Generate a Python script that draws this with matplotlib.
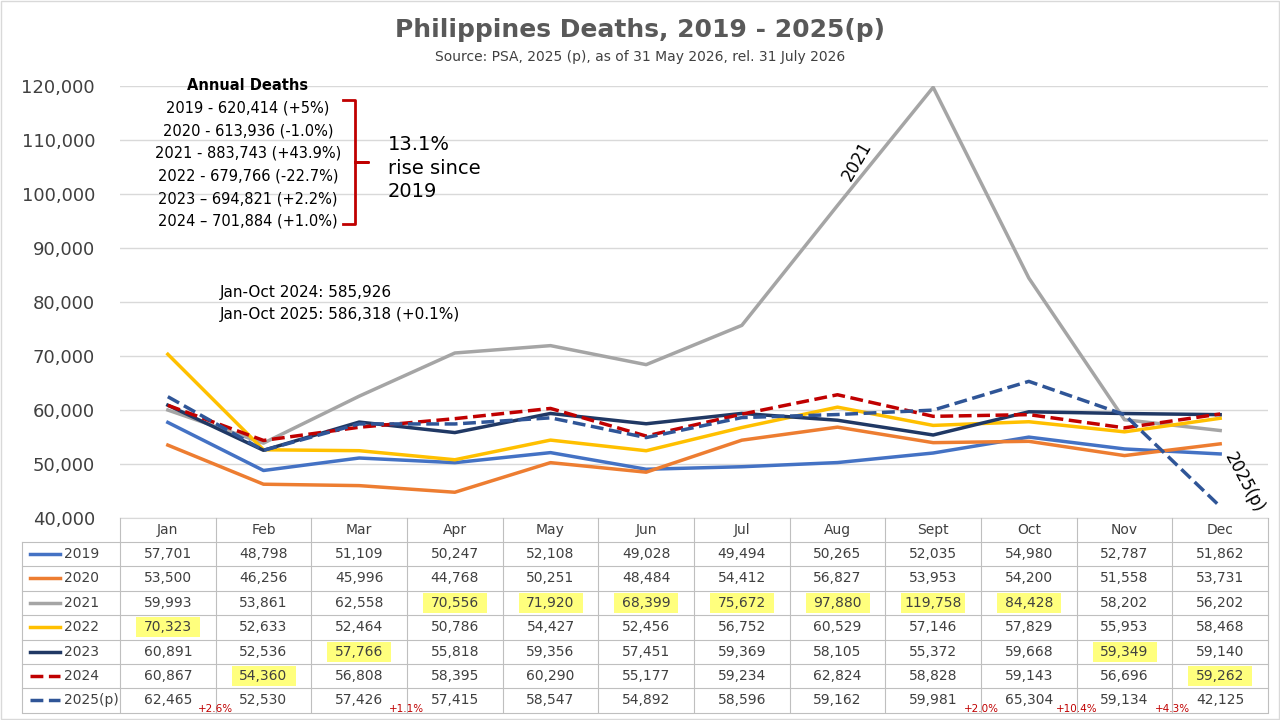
import matplotlib.pyplot as plt
from matplotlib.patches import Rectangle
from matplotlib.lines import Line2D

months = ["Jan", "Feb", "Mar", "Apr", "May", "Jun", "Jul", "Aug", "Sept", "Oct", "Nov", "Dec"]
series = ["2019", "2020", "2021", "2022", "2023", "2024", "2025(p)"]
d2019 = [57701, 48798, 51109, 50247, 52108, 49028, 49494, 50265, 52035, 54980, 52787, 51862]
d2020 = [53500, 46256, 45996, 44768, 50251, 48484, 54412, 56827, 53953, 54200, 51558, 53731]
d2021 = [59993, 53861, 62558, 70556, 71920, 68399, 75672, 97880, 119758, 84428, 58202, 56202]
d2022 = [70323, 52633, 52464, 50786, 54427, 52456, 56752, 60529, 57146, 57829, 55953, 58468]
d2023 = [60891, 52536, 57766, 55818, 59356, 57451, 59369, 58105, 55372, 59668, 59349, 59140]
d2024 = [60867, 54360, 56808, 58395, 60290, 55177, 59234, 62824, 58828, 59143, 56696, 59262]
d2025 = [62465, 52530, 57426, 57415, 58547, 54892, 58596, 59162, 59981, 65304, 59134, 42125]
values = [d2019, d2020, d2021, d2022, d2023, d2024, d2025]
colors = ["#4472C4", "#ED7D31", "#A5A5A5", "#FFC000", "#203864", "#C00000", "#2F5597"]
styles = ["-", "-", "-", "-", "-", "--", "--"]
# highlighted table cells (row index, month index)
highlights = [(2, i) for i in range(3, 10)] + [(3, 0), (4, 2), (4, 10), (5, 1), (5, 11)]
pct_labels = ["+2.6%", "+1.1%", "+2.0%", "+10.4%", "+4.3%"]
pct_pos = [0.5, 2.5, 8.5, 9.5, 10.5]
annual = ["2019 - 620,414 (+5%)", "2020 - 613,936 (-1.0%)", "2021 - 883,743 (+43.9%)",
          "2022 - 679,766 (-22.7%)", "2023 \u2013 694,821 (+2.2%)", "2024 \u2013 701,884 (+1.0%)"]

W, H = 1280, 720
fig = plt.figure(figsize=(12.8, 7.2), dpi=100)
fy = lambda py: 1 - py / H
fx = lambda px: px / W
L, R, T, B = 120, 1268, 86, 518
ax = fig.add_axes([fx(L), fy(B), fx(R) - fx(L), fy(T) - fy(B)])
x = list(range(12))
for v, c, s, n in zip(values, colors, styles, series):
    ax.plot(x, v, color=c, ls=s, lw=2.5, zorder=3 if n != "2021" else 2)
ax.set_xlim(-0.5, 11.5)
ax.set_ylim(40000, 120000)
ax.set_yticks(range(40000, 120001, 10000))
ax.set_yticklabels([f"{t:,}" for t in range(40000, 120001, 10000)], fontsize=13, color="#404040")
ax.set_xticks([])
ax.grid(axis="y", color="#D9D9D9", lw=1)
for sp in ["top", "right", "left"]:
    ax.spines[sp].set_visible(False)
ax.spines["bottom"].set_color("#D9D9D9")
ax.tick_params(axis="y", length=0, pad=18)

ax.text(7.2, 106000, "2021", rotation=60, fontsize=12, ha="center", va="center")
ax.text(11.25, 46500, "2025(p)", rotation=-62, fontsize=12, ha="center", va="center")

# title
fig.text(0.5, fy(30), "Philippines Deaths, 2019 - 2025(p)", ha="center", va="center",
         fontsize=18, fontweight="bold", color="#595959")
fig.text(0.5, fy(57), "Source: PSA, 2025 (p), as of 31 May 2026, rel. 31 July 2026",
         ha="center", va="center", fontsize=10, color="#404040")

# annual deaths block
fig.text(fx(248), fy(86), "Annual Deaths", ha="center", va="center", fontsize=10.5, fontweight="bold")
for i, a in enumerate(annual):
    fig.text(fx(248), fy(108 + i * 22.7), a, ha="center", va="center", fontsize=10.5)
bc = "#C00000"
bx = [343, 355, 355, 368, 355, 355, 343]
by = [100, 100, 162, 162, 162, 224, 224]
fig.add_artist(Line2D([fx(p) for p in bx], [fy(p) for p in by], color=bc, lw=2))
fig.text(fx(388), fy(168), "13.1%\nrise since\n2019", ha="left", va="center", fontsize=14, linespacing=1.3)
fig.text(fx(220), fy(292), "Jan-Oct 2024: 585,926", fontsize=11, va="center")
fig.text(fx(220), fy(315), "Jan-Oct 2025: 586,318 (+0.1%)", fontsize=11, va="center")

# data table
cw = (R - L) / 12
rows_y = [530] + [554 + i * 24.4 for i in range(7)]
grid = "#BFBFBF"
for r, m in highlights:
    cx = L + cw * (m + 0.5)
    fig.add_artist(Rectangle((fx(cx - 32), fy(rows_y[r + 1] + 10)), 64 / W, 20 / H,
                             facecolor="#FFFF66", edgecolor="none", alpha=0.85))
for i in range(13):
    px = L + cw * i
    fig.add_artist(Line2D([fx(px), fx(px)], [fy(518), fy(712)], color=grid, lw=0.8))
fig.add_artist(Line2D([fx(22), fx(22)], [fy(542), fy(712)], color=grid, lw=0.8))
for j in range(8):
    py = 542 + j * 24.4
    fig.add_artist(Line2D([fx(22), fx(R)], [fy(py), fy(py)], color=grid, lw=0.8))
for m, name in enumerate(months):
    fig.text(fx(L + cw * (m + 0.5)), fy(rows_y[0]), name, ha="center", va="center", fontsize=10, color="#404040")
for r, (v, c, s, n) in enumerate(zip(values, colors, styles, series)):
    py = rows_y[r + 1]
    fig.add_artist(Line2D([fx(30), fx(60)], [fy(py), fy(py)], color=c, ls=s, lw=2.5))
    fig.text(fx(64), fy(py), n, ha="left", va="center", fontsize=10, color="#404040")
    for m, val in enumerate(v):
        fig.text(fx(L + cw * (m + 0.5)), fy(py), f"{val:,}", ha="center", va="center", fontsize=10, color="#404040")
for lab, p in zip(pct_labels, pct_pos):
    fig.text(fx(L + cw * (p + 0.5)), fy(709), lab, ha="center", va="center", fontsize=7.5, color="#C00000")

fig.add_artist(Rectangle((0.001, 0.001), 0.998, 0.998, fill=False, edgecolor="#D9D9D9", lw=1))
fig.savefig("out.png", dpi=100)
